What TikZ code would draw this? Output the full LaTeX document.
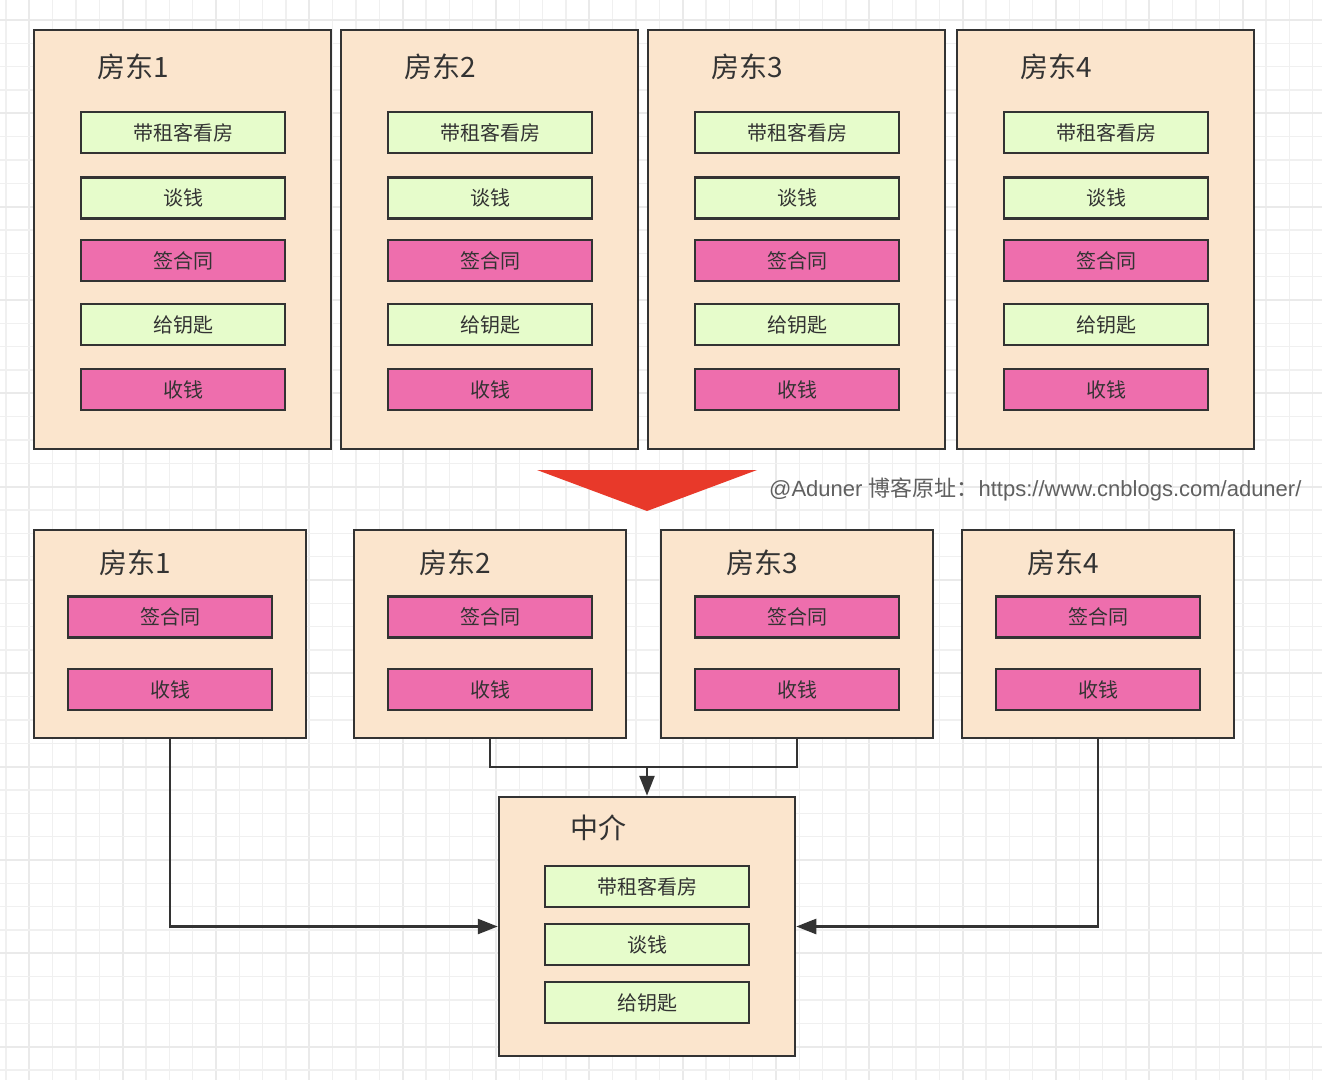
\documentclass[tikz,border=0pt]{standalone}
\usepackage{fontspec}
\setmainfont{Noto Sans CJK SC}
\newfontfamily\latinwm{Liberation Sans}
\usetikzlibrary{arrows.meta}
\definecolor{peach}{HTML}{FBE5CD}
\definecolor{lgreen}{HTML}{E6FCCB}
\definecolor{pink}{HTML}{EE6EAD}
\definecolor{edge}{HTML}{333333}
\definecolor{redarrow}{HTML}{E8392A}
\definecolor{gridc}{HTML}{F0F0F0}
\definecolor{gridmajor}{HTML}{EAEAEA}
\definecolor{wmark}{HTML}{606060}
\tikzset{
  container/.style={draw=edge, line width=2.5pt, fill=peach, rectangle, inner sep=0pt},
  greenbox/.style={draw=edge, line width=2.5pt, fill=lgreen, rectangle, inner sep=0pt,
     minimum width=204pt, minimum height=41pt, font=\fontsize{20}{20}\selectfont, text=edge},
  pinkbox/.style={draw=edge, line width=2.5pt, fill=pink, rectangle, inner sep=0pt,
     minimum width=204pt, minimum height=41pt, font=\fontsize{20}{20}\selectfont, text=edge},
  titletext/.style={font=\fontsize{28}{28}\selectfont, text=edge, inner sep=0pt},
  conn/.style={draw=edge, line width=2.5pt},
  arr/.style={conn, -{Triangle[length=20pt, width=15pt]}},
  gridline/.style={draw=gridc, line width=1.6pt},
  gridmaj/.style={draw=gridmajor, line width=1.8pt},
}
\begin{document}
\begin{tikzpicture}[x=1pt, y=-1pt]
\useasboundingbox (0,0) rectangle (1322,1080);
\fill[white] (0,0) rectangle (1322,1080);
\foreach \k in {0,...,56} {
  \pgfmathtruncatemacro{\m}{mod(\k,4)}
  \ifnum\m=1 \draw[gridmaj] ({6+\k*23.333},0) -- ++(0,1080); \else \draw[gridline] ({6+\k*23.333},0) -- ++(0,1080); \fi
}
\foreach \k in {0,...,45} {
  \pgfmathtruncatemacro{\m}{mod(\k,4)}
  \ifnum\m=0 \draw[gridmaj] (0,{20+\k*23.333}) -- ++(1322,0); \else \draw[gridline] (0,{20+\k*23.333}) -- ++(1322,0); \fi
}

% top row
\foreach \i/\L in {1/34, 2/341, 3/648, 4/957} {
  \node[container, minimum width=297pt, minimum height=419pt] (t\i) at ({\L+148.5}, 239.5) {};
  \node[titletext] (t\i title) at ({\L+99}, 67) {房东\i};
  \node[greenbox] (t\i a) at ({\L+149}, 132.5) {带租客看房};
  \node[greenbox] (t\i b) at ({\L+149}, 198) {谈钱};
  \node[pinkbox]  (t\i c) at ({\L+149}, 260.5) {签合同};
  \node[greenbox] (t\i d) at ({\L+149}, 324.5) {给钥匙};
  \node[pinkbox]  (t\i e) at ({\L+149}, 389.5) {收钱};
}

% red arrow
\fill[redarrow] (537,470) -- (757,470) -- (647,511) -- cycle;
\node[anchor=west, inner sep=0pt, text=wmark, font=\fontsize{22}{22}\selectfont] (wm) at (769,489)
  {{\latinwm @Aduner }博客原址：{\latinwm https://www.cnblogs.com/aduner/}};

% bottom row
\foreach \i/\L in {1/34, 2/354, 3/661, 4/962} {
  \node[container, minimum width=272pt, minimum height=208pt] (b\i) at ({\L+136}, 634) {};
  \node[titletext] (b\i title) at ({\L+101}, 563) {房东\i};
  \node[pinkbox] (b\i c) at ({\L+136}, 617) {签合同};
  \node[pinkbox] (b\i e) at ({\L+136}, 689.5) {收钱};
}

% agent
\node[container, minimum width=296pt, minimum height=259pt] (mid) at (647, 926.5) {};
\node[titletext] (midtitle) at (598, 828) {中介};
\node[greenbox] (ma) at (647, 886.5) {带租客看房};
\node[greenbox] (mb) at (647, 944.5) {谈钱};
\node[greenbox] (mc) at (647, 1002.5) {给钥匙};

% connectors
\coordinate (j) at (647, 767);
\draw[conn] (b2.south) |- (j) -| (b3.south);
\draw[arr] (j) -- (mid.north);
\draw[arr] (b1.south) |- (mid.west);
\draw[arr] (b4.south) |- (mid.east);
\end{tikzpicture}
\end{document}
